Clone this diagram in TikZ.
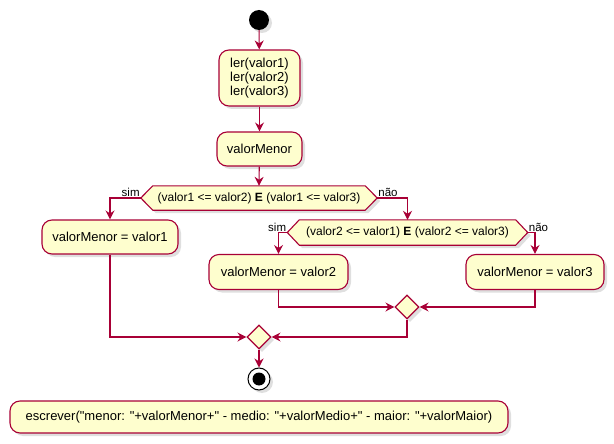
\documentclass[tikz,border=0pt]{standalone}
\usepackage{fontspec}
\setmainfont{Liberation Sans}[Ligatures=TeXOff]
\usetikzlibrary{arrows.meta,shadows,calc,shapes.geometric}
\definecolor{umlborder}{HTML}{A80036}
\definecolor{umlfill}{HTML}{FEFECE}
\tikzset{
  x=1pt,y=-1pt,
  shade/.style={drop shadow={opacity=0.25,shadow xshift=3pt,shadow yshift=-3pt}},
  act/.style={draw=umlborder,fill=umlfill,line width=1.1pt,rounded corners=10pt,shade,
    font=\fontsize{13}{14}\selectfont,align=center,inner sep=0pt},
  hexbox/.style={inner sep=0pt,font=\fontsize{12}{13}\selectfont},
  hexdraw/.style={draw=umlborder,fill=umlfill,line width=1.1pt,shade},
  merge/.style={draw=umlborder,fill=umlfill,line width=1.1pt,shade,diamond,inner sep=0pt,minimum width=24pt,minimum height=24pt},
  flow/.style={draw=umlborder,line width=1.1pt,-{Stealth[length=9pt,width=9pt,inset=3pt]}},
  lbl/.style={font=\fontsize{11.5}{13}\selectfont,inner sep=0pt}
}
\begin{document}
\begin{tikzpicture}
\useasboundingbox (0,0) rectangle (614,444);
% start
\node[circle,fill=black,minimum size=20pt,inner sep=0pt,shade] (start) at (259,20) {};
% activities
\node[act,minimum width=81pt,minimum height=56pt] (ler) at (259.5,78) {ler(valor1)\\ler(valor2)\\ler(valor3)};
\node[act,minimum width=85pt,minimum height=34pt] (vm) at (259.5,149) {valorMenor};
% decision 1
\node[hexbox,minimum width=236pt,minimum height=24pt] (d1) at (259,198) {};
\path[hexdraw] (d1.west) -- ($(d1.north west)+(12,0)$) -- ($(d1.north east)+(-12,0)$) -- (d1.east) -- ($(d1.south east)+(-12,0)$) -- ($(d1.south west)+(12,0)$) -- cycle;
\node[hexbox] at (d1) {(valor1 <= valor2) \textbf{E} (valor1 <= valor3)};
\node[act,minimum width=136pt,minimum height=34pt] (a1) at (110,237) {valorMenor = valor1};
% decision 2
\node[hexbox,minimum width=240pt,minimum height=25pt] (d2) at (407.5,232.5) {};
\path[hexdraw] (d2.west) -- ($(d2.north west)+(12,0)$) -- ($(d2.north east)+(-12,0)$) -- (d2.east) -- ($(d2.south east)+(-12,0)$) -- ($(d2.south west)+(12,0)$) -- cycle;
\node[hexbox] at (d2) {(valor2 <= valor1) \textbf{E} (valor2 <= valor3)};
\node[act,minimum width=139pt,minimum height=35pt] (a2) at (278.5,272) {valorMenor = valor2};
\node[act,minimum width=138pt,minimum height=35pt] (a3) at (535,272) {valorMenor = valor3};
% merges
\node[merge] (m2) at (407,307) {};
\node[merge] (m1) at (259,337) {};
% end
\node[circle,draw=black,fill=white,line width=1pt,minimum size=22pt,inner sep=0pt,shade] (stop) at (259,379) {};
\node[circle,fill=black,minimum size=13pt,inner sep=0pt] at (stop) {};
% output
\node[act,minimum width=498pt,minimum height=32pt] (out) at (259,417) {escrever("menor: "+valorMenor+" - medio: "+valorMedio+" - maior: "+valorMaior)};
% connectors
\draw[flow] (start) -- (ler);
\draw[flow] (ler) -- (vm);
\draw[flow] (vm) -- (d1.north);
\draw[flow] (d1.west) -| (a1.north);
\draw[flow] (d1.east) -| (d2.north);
\draw[flow] (d2.west) -| (a2.north);
\draw[flow] (d2.east) -| (a3.north);
\draw[flow] (a2.south) |- (m2.west);
\draw[flow] (a3.south) |- (m2.east);
\draw[flow] (a1.south) |- (m1.west);
\draw[flow] (m2.south) |- (m1.east);
\draw[flow] (m1.south) -- (stop.north);
% labels
\node[lbl,anchor=south east] at ($(d1.west)+(-1,-1)$) {sim};
\node[lbl,anchor=south west] at ($(d1.east)+(1,-1)$) {não};
\node[lbl,anchor=south east] at ($(d2.west)+(-1,-1)$) {sim};
\node[lbl,anchor=south west] at ($(d2.east)+(1,-1)$) {não};
\end{tikzpicture}
\end{document}
